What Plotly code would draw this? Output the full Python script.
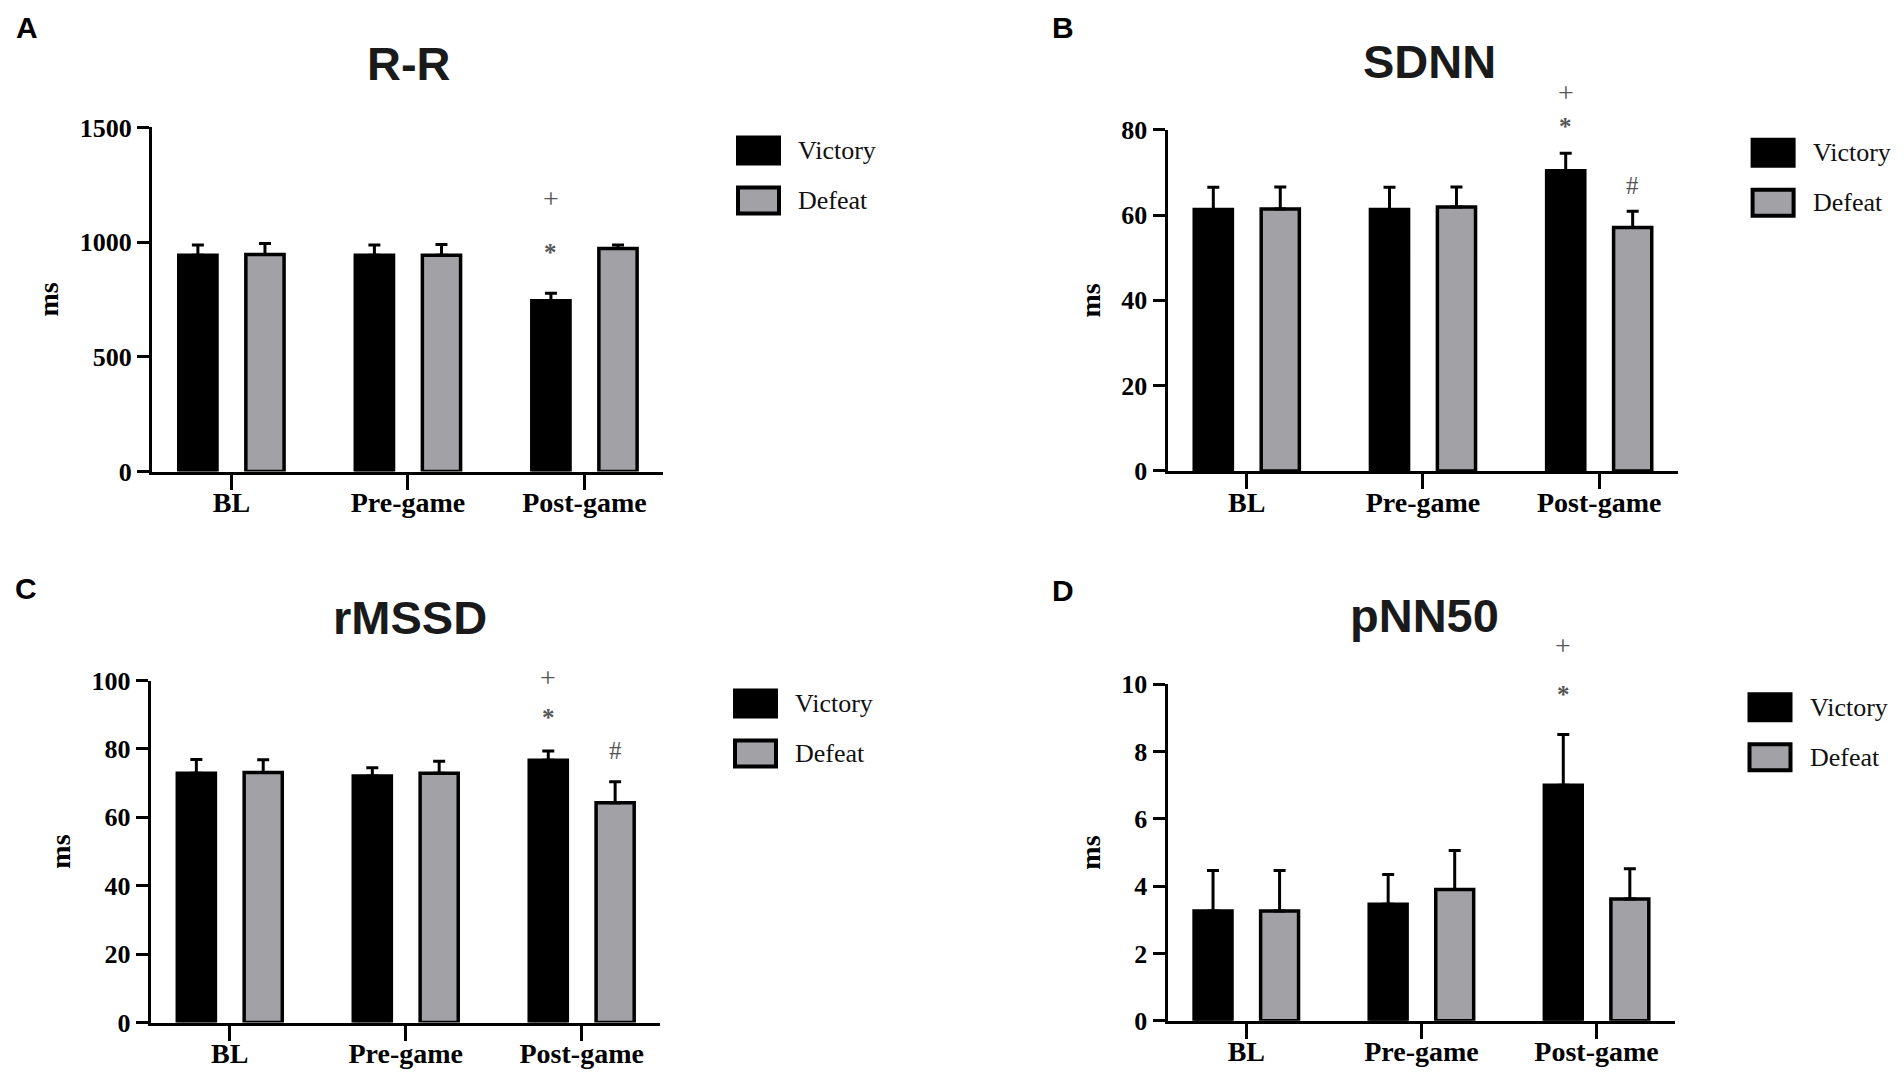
import plotly.graph_objects as go

# group labels and series (means with upward SEM)
categories = ['BL', 'Pre-game', 'Post-game']
groups = ['Victory', 'Defeat']

rr_victory = [943, 943, 745]
rr_victory_err = [45, 45, 32]
rr_defeat = [946, 943, 972]
rr_defeat_err = [48, 47, 16]

sdnn_victory = [61.3, 61.3, 70.4]
sdnn_victory_err = [5.2, 5.2, 4.1]
sdnn_defeat = [61.4, 61.9, 57.1]
sdnn_defeat_err = [5.2, 4.7, 3.8]

rmssd_victory = [72.9, 72.1, 76.7]
rmssd_victory_err = [4.0, 2.4, 2.7]
rmssd_defeat = [73.1, 72.9, 64.3]
rmssd_defeat_err = [3.7, 3.5, 6.1]

pnn50_victory = [3.26, 3.46, 7.0]
pnn50_victory_err = [1.21, 0.89, 1.51]
pnn50_defeat = [3.26, 3.9, 3.62]
pnn50_defeat_err = [1.21, 1.16, 0.90]

# significance marks: (category, group, symbol, y)
rr_marks = [('Post-game', 'Victory', '*', 957), ('Post-game', 'Victory', '+', 1192)]
sdnn_marks = [('Post-game', 'Victory', '*', 80.8), ('Post-game', 'Victory', '+', 88.7),
              ('Post-game', 'Defeat', '#', 67.0)]
rmssd_marks = [('Post-game', 'Victory', '*', 89.3), ('Post-game', 'Victory', '+', 101),
               ('Post-game', 'Defeat', '#', 79.5)]
pnn50_marks = [('Post-game', 'Victory', '*', 9.7), ('Post-game', 'Victory', '+', 11.15)]

W, H = 1904, 1087
PAGE_PAD = 8  # default body margin of the html page
BLACK = '#000000'
GREY = '#a2a2a6'
MARK = '#555555'
SERIF = 'Liberation Serif, Times New Roman, serif'
SANS = 'Liberation Sans, Arial, sans-serif'


def fx(px):
    return (px - PAGE_PAD) / W


def fy(px):
    return 1 - (px - PAGE_PAD) / H


panels = [
    dict(name='R-R', letter='A', v=rr_victory, ve=rr_victory_err, d=rr_defeat, de=rr_defeat_err,
         marks=rr_marks, ymax=1500, dtick=500, box=(152, 663, 127.4, 471.6),
         letter_at=(26.5, 27.5), title_at=(409, 64.5)),
    dict(name='SDNN', letter='B', v=sdnn_victory, ve=sdnn_victory_err, d=sdnn_defeat, de=sdnn_defeat_err,
         marks=sdnn_marks, ymax=80, dtick=20, box=(1167.5, 1677.6, 129.8, 470.9),
         letter_at=(1063, 28), title_at=(1429, 62.5)),
    dict(name='rMSSD', letter='C', v=rmssd_victory, ve=rmssd_victory_err, d=rmssd_defeat, de=rmssd_defeat_err,
         marks=rmssd_marks, ymax=100, dtick=20, box=(150.6, 660, 680.5, 1022.6),
         letter_at=(26, 588), title_at=(410, 618)),
    dict(name='pNN50', letter='D', v=pnn50_victory, ve=pnn50_victory_err, d=pnn50_defeat, de=pnn50_defeat_err,
         marks=pnn50_marks, ymax=10, dtick=2, box=(1167.5, 1674.5, 684.3, 1020.8),
         letter_at=(1063, 590), title_at=(1424, 616)),
]

fig = go.Figure()
layout = dict(
    width=W, height=H,
    margin=dict(l=0, r=0, t=0, b=0, autoexpand=False),
    paper_bgcolor='white', plot_bgcolor='white',
    barmode='group', bargap=0.24, bargroupgap=0.43,
    showlegend=False,
)
annotations = []
shapes = []

for i, p in enumerate(panels, start=1):
    sx = '' if i == 1 else str(i)
    xa, ya = 'x' + sx, 'y' + sx
    for label, vals, errs, fill in [('Victory', p['v'], p['ve'], BLACK), ('Defeat', p['d'], p['de'], GREY)]:
        fig.add_trace(go.Bar(
            x=categories, y=vals, name=label, xaxis=xa, yaxis=ya,
            marker=dict(color=fill, line=dict(color=BLACK, width=3.5)),
            error_y=dict(type='data', symmetric=False, array=errs, arrayminus=[0] * len(errs),
                         color=BLACK, thickness=3, width=6),
        ))

    x0, x1, y0, y1 = p['box']
    layout['xaxis' + sx] = dict(
        domain=[fx(x0), fx(x1)], anchor=ya, range=[-0.45, 2.445], automargin=False,
        showline=True, linecolor=BLACK, linewidth=3,
        ticks='outside', ticklen=15, tickwidth=3, tickcolor=BLACK, ticklabelstandoff=-11,
        showgrid=False, zeroline=False,
        tickfont=dict(family=SERIF, size=28, color=BLACK, weight='bold'),
    )
    layout['yaxis' + sx] = dict(
        domain=[fy(y1), fy(y0)], anchor=xa, range=[0, p['ymax']], dtick=p['dtick'], automargin=False,
        showline=True, linecolor=BLACK, linewidth=3,
        ticks='outside', ticklen=12, tickwidth=3, tickcolor=BLACK,
        showgrid=False, zeroline=False,
        tickfont=dict(family=SERIF, size=26, color=BLACK, weight='bold'),
        title=dict(text='ms', standoff=13, font=dict(family=SERIF, size=28, color=BLACK, weight='bold')),
    )

    # panel letter and title
    annotations.append(dict(text=p['letter'], x=fx(p['letter_at'][0]), y=fy(p['letter_at'][1]),
                            xref='paper', yref='paper', showarrow=False, xanchor='center', yanchor='middle',
                            font=dict(family=SANS, size=30, color=BLACK, weight='bold')))
    annotations.append(dict(text=p['name'], x=fx(p['title_at'][0]), y=fy(p['title_at'][1] - 1),
                            xref='paper', yref='paper', showarrow=False, xanchor='center', yanchor='middle',
                            font=dict(family=SANS, size=47, color='#1a1a1a', weight='bold')))

    # significance symbols above bars (domain ref so marks above the range are still drawn)
    for cat, grp, sym, yv in p['marks']:
        annotations.append(dict(text=sym, x=cat, y=yv / p['ymax'], xref=xa, yref=ya + ' domain',
                                showarrow=False, xshift=-33.5 if grp == 'Victory' else 33.5,
                                yanchor='middle',
                                font=dict(family=SERIF, size=28 if sym == '+' else 25, color=MARK,
                                          weight='bold' if sym == '*' else 'normal')))

    # legend drawn as boxes + labels beside each panel
    lx = x1 + 75
    for k, (label, fill) in enumerate([('Victory', BLACK), ('Defeat', GREY)]):
        top = y0 + 10 + k * 50
        shapes.append(dict(type='rect', xref='paper', yref='paper',
                           x0=fx(lx), x1=fx(lx + 41), y0=fy(top + 26), y1=fy(top),
                           fillcolor=fill, line=dict(color=BLACK, width=4)))
        annotations.append(dict(text=label, x=fx(lx + 58), y=fy(top + 13), xref='paper', yref='paper',
                                showarrow=False, xanchor='left', yanchor='middle',
                                font=dict(family=SERIF, size=26, color='#111111')))

layout['annotations'] = annotations
layout['shapes'] = shapes
fig.update_layout(**layout)

fig.write_html("out.html")
